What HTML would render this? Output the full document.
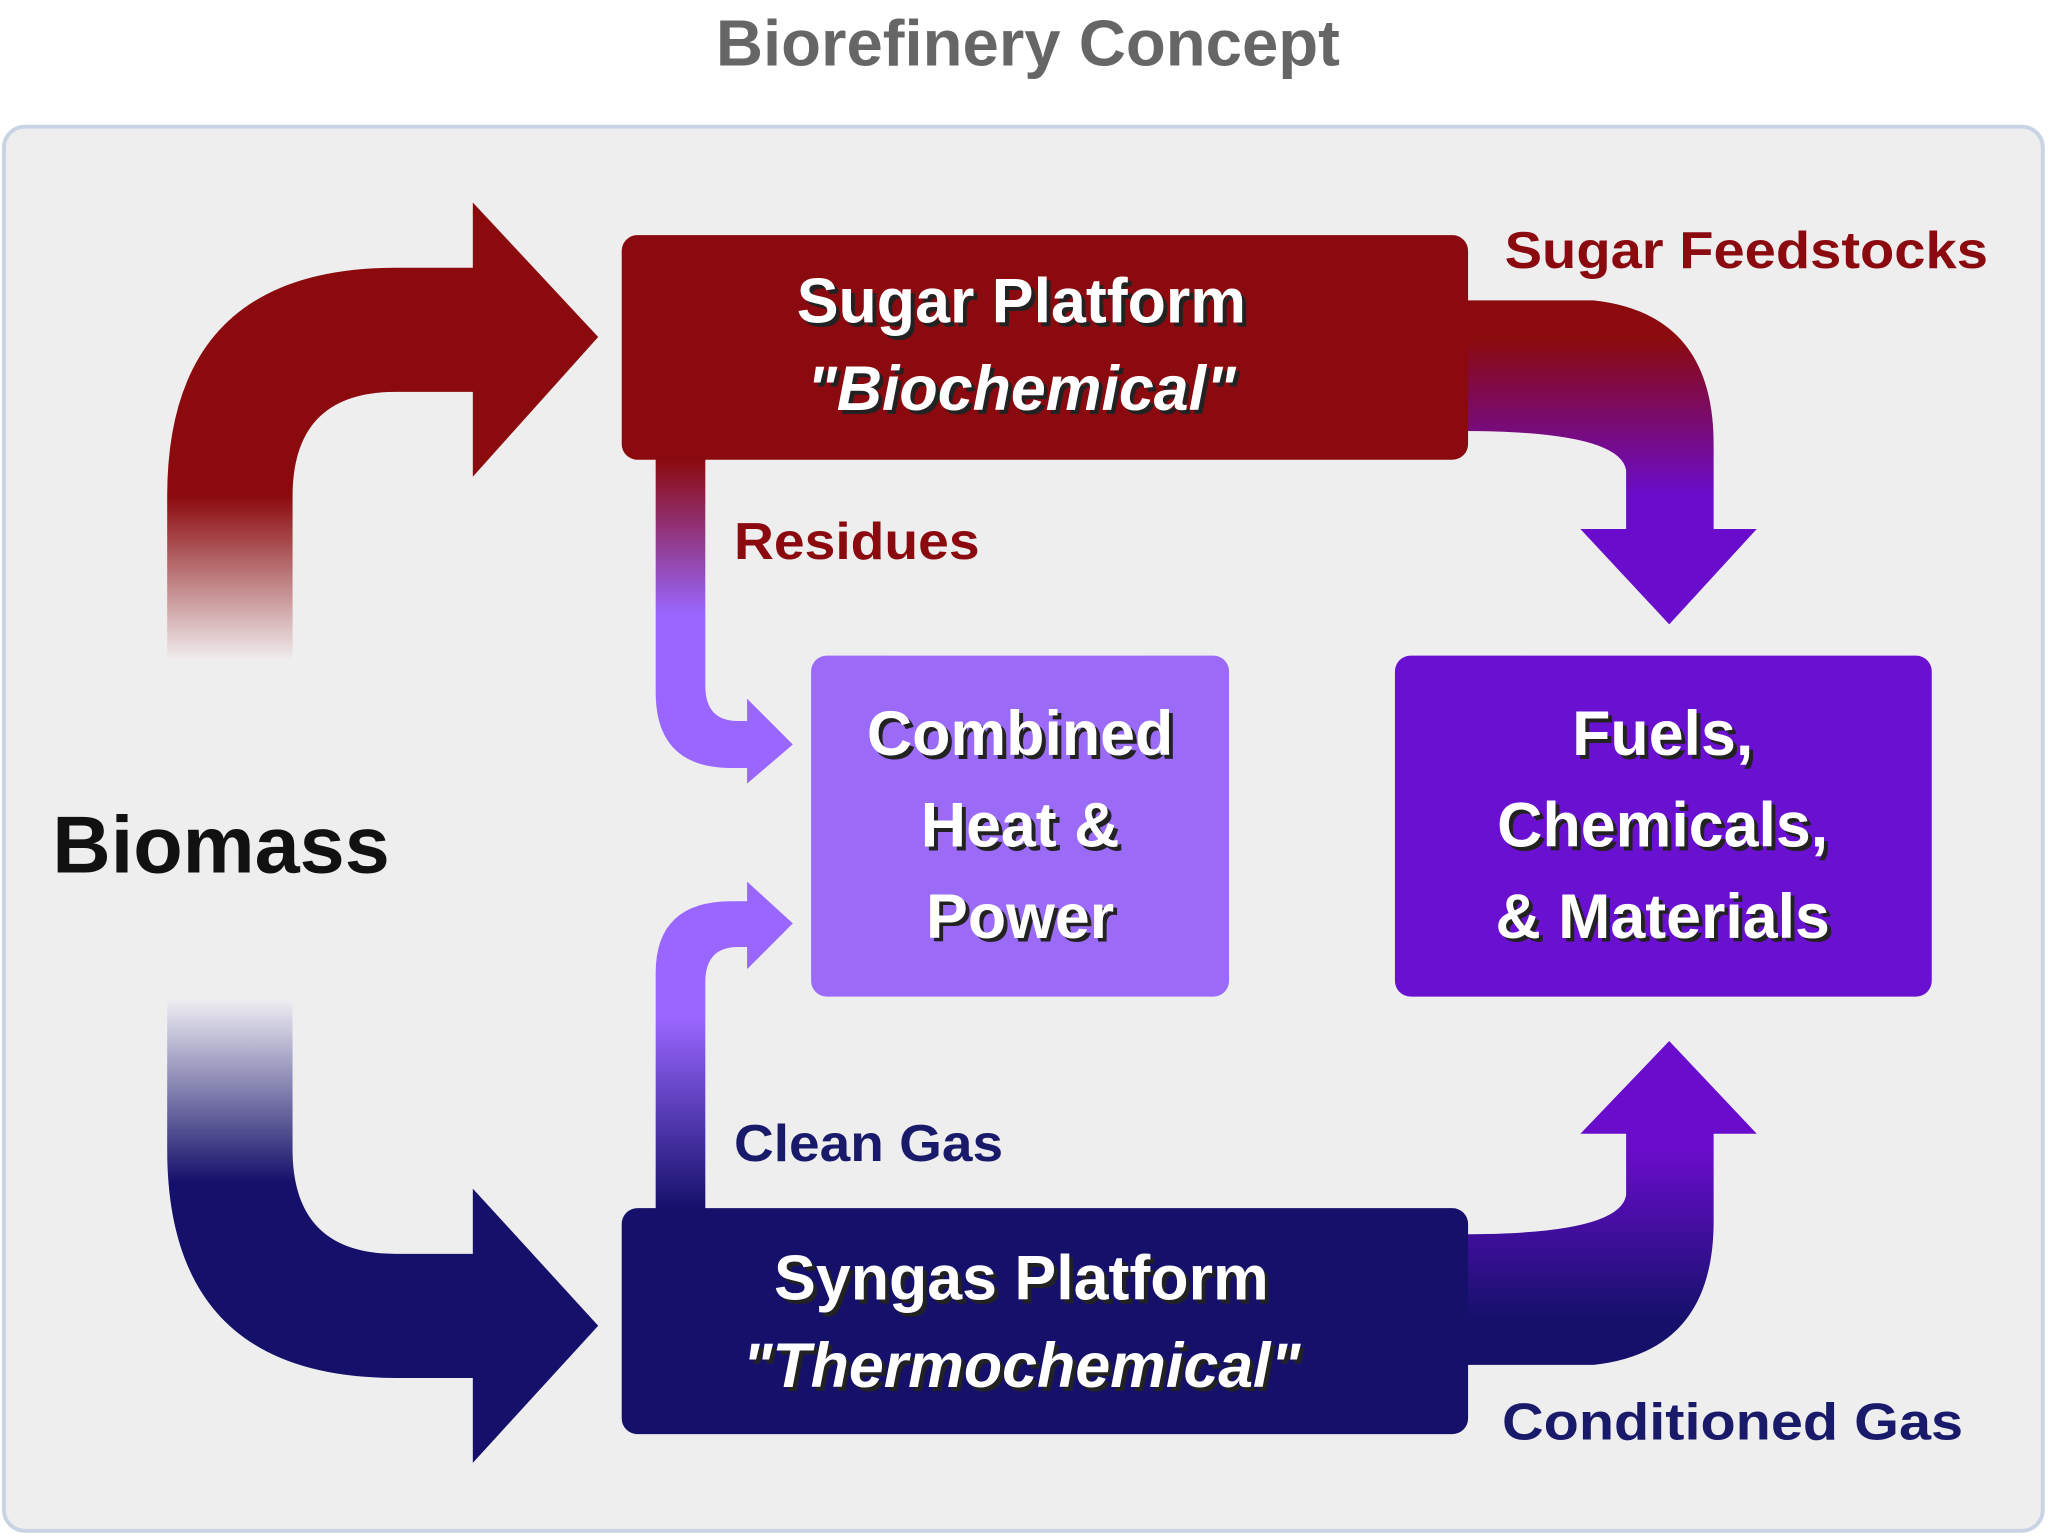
<!DOCTYPE html>
<html><head><meta charset="utf-8"><style>
html,body{margin:0;padding:0;background:#fff;}
svg{display:block}
text{font-family:"Liberation Sans",sans-serif;font-weight:bold}
</style></head><body>
<svg width="2048" height="1536" viewBox="0 0 1568 1176" preserveAspectRatio="none" xmlns="http://www.w3.org/2000/svg">
<defs>
<linearGradient id="gTL" x1="0" y1="380" x2="0" y2="505" gradientUnits="userSpaceOnUse">
<stop offset="0" stop-color="#8b0a0e"/><stop offset="1" stop-color="#efeded"/></linearGradient>
<linearGradient id="gBL" x1="0" y1="765" x2="0" y2="905" gradientUnits="userSpaceOnUse">
<stop offset="0" stop-color="#efeef3"/><stop offset="1" stop-color="#15116b"/></linearGradient>
<linearGradient id="gTR" x1="0" y1="260" x2="0" y2="380" gradientUnits="userSpaceOnUse">
<stop offset="0" stop-color="#8b0a0e"/><stop offset="1" stop-color="#6a0ccc"/></linearGradient>
<linearGradient id="gBR" x1="0" y1="1010" x2="0" y2="880" gradientUnits="userSpaceOnUse">
<stop offset="0" stop-color="#15116b"/><stop offset="1" stop-color="#6a0ccc"/></linearGradient>
<linearGradient id="gRes" x1="0" y1="352" x2="0" y2="470" gradientUnits="userSpaceOnUse">
<stop offset="0" stop-color="#8b0a0e"/><stop offset="1" stop-color="#9966ff"/></linearGradient>
<linearGradient id="gCG" x1="0" y1="925" x2="0" y2="780" gradientUnits="userSpaceOnUse">
<stop offset="0" stop-color="#15116b"/><stop offset="1" stop-color="#9966ff"/></linearGradient>
</defs>
<rect x="0" y="0" width="1568" height="1176" fill="#ffffff"/>
<text x="787" y="50" font-size="50" fill="#666666" text-anchor="middle">Biorefinery Concept</text>
<rect x="3" y="97" width="1561" height="1075" rx="16" fill="#efeeef" stroke="#c8d4e4" stroke-width="3"/>

<path d="M128,505 L128,380 Q128,205 303,205 L362,205 L362,155 L458,258 L362,365 L362,300 L303,300 Q224,300 224,380 L224,505 Z" fill="url(#gTL)"/>
<path d="M128,765 L128,880 Q128,1055 303,1055 L362,1055 L362,1120 L458,1015 L362,910 L362,960 L303,960 Q224,960 224,880 L224,765 Z" fill="url(#gBL)"/>

<path d="M1120,230 L1220,230 Q1312,240 1312,340 L1312,405 L1345,405 L1278,478 L1210,405 L1245,405 L1245,360 Q1240,330 1120,330 Z" fill="url(#gTR)"/>
<path d="M1120,1045 L1220,1045 Q1312,1035 1312,935 L1312,868 L1345,868 L1278,797 L1210,868 L1245,868 L1245,915 Q1240,945 1120,945 Z" fill="url(#gBR)"/>

<path d="M502,350 L502,530 Q502,588 560,588 L572,588 L572,600 L607,570 L572,535 L572,552 L565,552 Q540,552 540,525 L540,350 Z" fill="url(#gRes)"/>
<path d="M502,928 L502,745 Q502,690 560,690 L572,690 L572,675 L607,707 L572,742 L572,725 L565,725 Q540,725 540,752 L540,928 Z" fill="url(#gCG)"/>

<rect x="476" y="180" width="648" height="172" rx="12" fill="#8b0a10"/>
<rect x="476" y="925" width="648" height="173" rx="12" fill="#15116b"/>
<rect x="621" y="502" width="320" height="261" rx="12" fill="#9b6bf7"/>
<rect x="1068" y="502" width="411" height="261" rx="12" fill="#6a10d0"/>

<g font-size="48" text-anchor="middle">
<g fill="#222" transform="translate(3,3)">
<text x="782" y="247">Sugar Platform</text>
<text x="782" y="314" font-style="italic">"Biochemical"</text>
<text x="782" y="995">Syngas Platform</text>
<text x="782" y="1062" font-style="italic">"Thermochemical"</text>
<text x="781" y="578">Combined</text>
<text x="781" y="648">Heat &amp;</text>
<text x="781" y="718">Power</text>
<text x="1273" y="578">Fuels,</text>
<text x="1273" y="648">Chemicals,</text>
<text x="1273" y="718">&amp; Materials</text>
</g>
<g fill="#ffffff">
<text x="782" y="247">Sugar Platform</text>
<text x="782" y="314" font-style="italic">"Biochemical"</text>
<text x="782" y="995">Syngas Platform</text>
<text x="782" y="1062" font-style="italic">"Thermochemical"</text>
<text x="781" y="578">Combined</text>
<text x="781" y="648">Heat &amp;</text>
<text x="781" y="718">Power</text>
<text x="1273" y="578">Fuels,</text>
<text x="1273" y="648">Chemicals,</text>
<text x="1273" y="718">&amp; Materials</text>
</g>
</g>

<text x="40" y="668" font-size="62" fill="#111">Biomass</text>
<text x="1152" y="205" font-size="40" fill="#8b0a10" textLength="370" lengthAdjust="spacingAndGlyphs">Sugar Feedstocks</text>
<text x="562" y="428" font-size="40" fill="#8b0a10" textLength="188" lengthAdjust="spacingAndGlyphs">Residues</text>
<text x="562" y="889" font-size="40" fill="#1a1a6b" textLength="206" lengthAdjust="spacingAndGlyphs">Clean Gas</text>
<text x="1150" y="1102" font-size="40" fill="#1a1a6b" textLength="353" lengthAdjust="spacingAndGlyphs">Conditioned Gas</text>
</svg>
</body></html>
